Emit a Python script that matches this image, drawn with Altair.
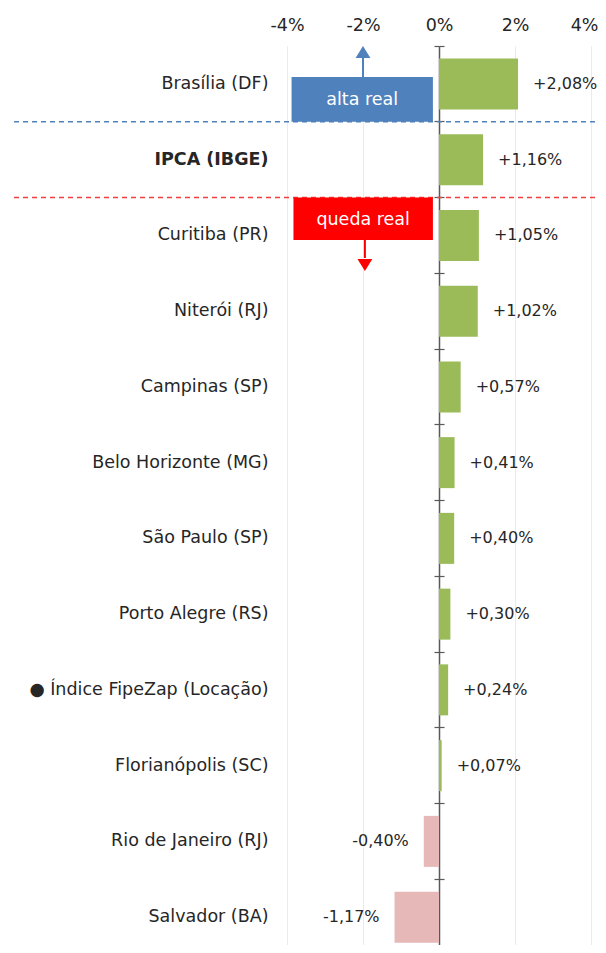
import altair as alt
import pandas as pd

FONT = "DejaVu Sans"
FS = 17.5
FS_VAL = 16
TXT = "#262626"

categories = [
    "Brasília (DF)", "IPCA (IBGE)", "Curitiba (PR)", "Niterói (RJ)",
    "Campinas (SP)", "Belo Horizonte (MG)", "São Paulo (SP)",
    "Porto Alegre (RS)", "● Índice FipeZap (Locação)", "Florianópolis (SC)",
    "Rio de Janeiro (RJ)", "Salvador (BA)",
]
values = [2.08, 1.16, 1.05, 1.02, 0.57, 0.41, 0.40, 0.30, 0.24, 0.07, -0.40, -1.17]
value_labels = [("+" if v > 0 else "") + f"{v:.2f}".replace(".", ",") + "%" for v in values]

x_ticks = [-4, -2, 0, 2, 4]

box_texts = ["alta real", "queda real"]
box_x_start = [-3.88, -3.83]
box_x_end = [-0.16, -0.16]
arrow_x = [-2.0, -1.95]
BLUE = "#4F81BD"
RED = "#FF0000"

W, H = 304, 899
YR = 909
STEP = YR / len(categories)
ZERO_PX = W / 2
PAD_L, PAD_R, PAD_T = 279, 7, 38

df = pd.DataFrame({"cat": categories, "v": values, "label": value_labels})

xsc = alt.Scale(domain=[-4, 4], nice=False, zero=False)
ysc = alt.Scale(domain=categories, paddingInner=0, paddingOuter=0, range=[0, YR])

base = alt.Chart(df)

bars = base.mark_bar(size=51).encode(
    x=alt.X("v:Q", scale=xsc, title=None,
            axis=alt.Axis(orient="top", values=x_ticks, labelExpr="datum.value + '%'",
                          grid=True, gridColor="#EBEBEB", gridWidth=1, domain=False,
                          ticks=False, labelFontSize=FS, labelFont=FONT, labelColor=TXT,
                          labelPadding=12, labelFlush=False,
                          labelAlign={"condition": {"test": "datum.value == 4", "value": "right"}, "value": "center"},
                          labelOffset={"condition": {"test": "datum.value == 4", "value": 7}, "value": 0})),
    x2=alt.datum(0),
    y=alt.Y("cat:N", scale=ysc, sort=categories, title=None,
            axis=alt.Axis(orient="left", ticks=False, domain=False, labelFontSize=FS,
                          labelFont=FONT, labelColor=TXT, labelPadding=19,
                          labelLimit=400,
                          labelFontWeight={"condition": {"test": "datum.value == 'IPCA (IBGE)'", "value": "bold"}, "value": "normal"})),
    color=alt.condition("datum.v >= 0", alt.value("#9BBB59"), alt.value("#E6B9B8")),
)

pos_text = base.transform_filter("datum.v >= 0").mark_text(
    align="left", dx=15, fontSize=FS_VAL, font=FONT, color=TXT
).encode(
    x=alt.X("v:Q", scale=xsc, axis=None),
    y=alt.Y("cat:N", scale=ysc, sort=categories, title=None,
            axis=alt.Axis(orient="left", offset=-ZERO_PX, labels=False, domain=True,
                          domainColor="#595959", domainWidth=1.5, ticks=True, tickSize=5,
                          tickColor="#595959", tickWidth=1.2, bandPosition=0, grid=False)),
    text="label:N",
)

neg_text = base.transform_filter("datum.v < 0").mark_text(
    align="right", dx=-15, fontSize=FS_VAL, font=FONT, color=TXT
).encode(
    x=alt.X("v:Q", scale=xsc, axis=None),
    y=alt.Y("cat:N", scale=ysc, sort=categories, title=None,
            axis=alt.Axis(orient="right", offset=-(W - ZERO_PX), labels=False, domain=False,
                          ticks=True, tickSize=5, tickColor="#595959", tickWidth=1.2,
                          bandPosition=0, grid=False)),
    text="label:N",
)

layers = [bars, pos_text, neg_text]

# dashed separators
sep_colors = ["#4F81BD", "#F04040"]
for i, col in enumerate(sep_colors):
    layers.append(
        alt.Chart(pd.DataFrame({"k": [i]})).mark_rule(color=col, strokeDash=[5, 4], strokeWidth=1.3).encode(
            x=alt.value(-273), x2=alt.value(W + PAD_R), y=alt.value(STEP * (i + 1))
        )
    )

# annotation boxes
box_y = [(31, STEP), (2 * STEP, 194)]
text_y = [54, 174]
shaft_y = [(31, 12), (194, 212)]
head_y = [6, 219]
head_shape = ["M-1,0.8H1L0,-0.8Z", "M-1,-0.8H1L0,0.8Z"]
box_col = [BLUE, RED]
for i in range(2):
    bd = pd.DataFrame({"x": [box_x_start[i]], "x2": [box_x_end[i]], "t": [box_texts[i]], "ax": [arrow_x[i]]})
    bc = alt.Chart(bd)
    layers.append(bc.mark_rect(color=box_col[i]).encode(
        x=alt.X("x:Q", scale=xsc, axis=None), x2="x2:Q",
        y=alt.value(box_y[i][0]), y2=alt.value(box_y[i][1])))
    layers.append(bc.transform_calculate(mx="(datum.x + datum.x2) / 2").mark_text(
        color="white", fontSize=FS, font=FONT, align="center", baseline="middle").encode(
        x=alt.X("mx:Q", scale=xsc, axis=None), y=alt.value(text_y[i]), text="t:N"))
    layers.append(bc.mark_rule(color=box_col[i], strokeWidth=2).encode(
        x=alt.X("ax:Q", scale=xsc, axis=None),
        y=alt.value(shaft_y[i][0]), y2=alt.value(shaft_y[i][1])))
    layers.append(bc.mark_point(shape=head_shape[i], filled=True, size=220, opacity=1,
                                color=box_col[i]).encode(
        x=alt.X("ax:Q", scale=xsc, axis=None), y=alt.value(head_y[i])))

chart = alt.layer(*layers).resolve_axis(x="independent", y="independent").properties(
    width=W, height=H,
    padding={"left": PAD_L, "top": PAD_T, "right": PAD_R, "bottom": 0},
    autosize=alt.AutoSizeParams(type="none"),
).configure_view(stroke=None)

chart.save("out.html", embed_options={"renderer": "svg", "actions": False})
